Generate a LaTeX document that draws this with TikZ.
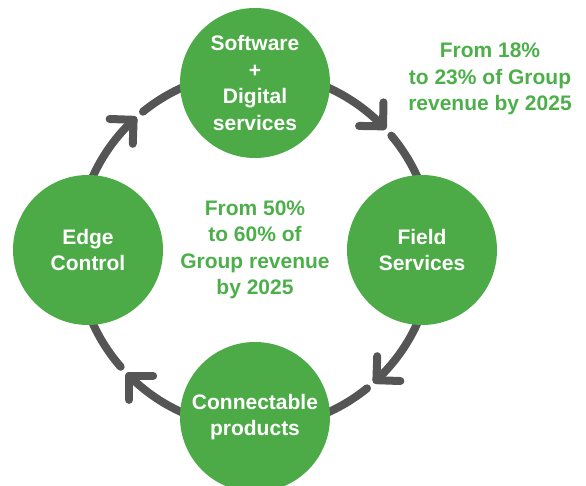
\documentclass[tikz,border=0pt]{standalone}
\usepackage{fontspec}
\setmainfont{Liberation Sans}
\usetikzlibrary{calc}
\definecolor{leafGreen}{HTML}{4CAB46}
\definecolor{noteGreen}{HTML}{4DAF4A}
\definecolor{ringGray}{HTML}{555555}

\begin{document}
\begin{tikzpicture}[
			x=1pt, y=1pt,
			every node/.style={align=center, inner sep=0pt, font=\bfseries\fontsize{21}{26.5}\selectfont},
			greenCircle/.style={circle, fill=leafGreen, minimum size=150pt, text=white},
			noteText/.style={text=noteGreen},
			ringLine/.style={draw=ringGray, line width=8pt, line cap=round, line join=round}
		]
		\useasboundingbox (0,0) rectangle (586,485);
		\coordinate (hub) at (255,235);

		% Ring, drawn clockwise in four pieces, each with an open head
		\foreach \from/\to in {129/44, 40/-47, -51/-135, -139/-227} {
			\coordinate (tip) at ($(hub)+(\to:178pt)$);
			\draw[ringLine] ($(hub)+(\from:178pt)$) arc[start angle=\from, end angle=\to, radius=178pt];
			\draw[ringLine] ($(tip)+(\to+45:24pt)$) -- (tip) -- ($(tip)+(\to+135:24pt)$);
		}

		% The four circles
		\node[greenCircle] (software) at (255,402) {Software\\+\\Digital\\services};
		\node[greenCircle] (field) at (422,235) {Field\\Services};
		\node[greenCircle] (products) at (255,68) {Connectable\\products};
		\node[greenCircle] (edge) at (88,235) {Edge\\Control};

		% Revenue notes
		\node[noteText] (noteTop) at (490,406) {From 18\%\\to 23\% of Group\\revenue by 2025};
		\node[noteText] (noteMid) at (hub) {From 50\%\\to 60\% of\\Group revenue\\by 2025};
	\end{tikzpicture}
\end{document}
